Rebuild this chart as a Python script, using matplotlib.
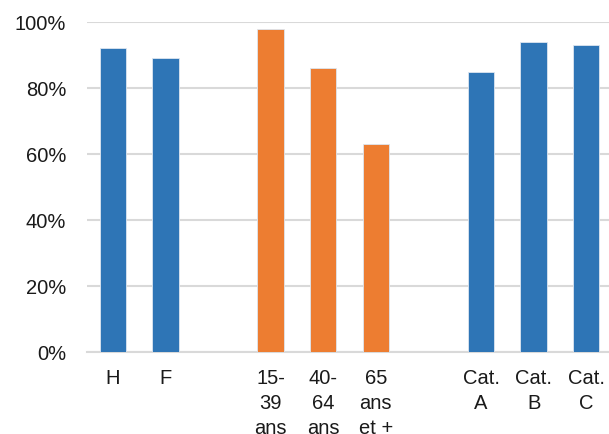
import matplotlib
matplotlib.use("Agg")
import matplotlib.pyplot as plt
from matplotlib.ticker import PercentFormatter

labels = ["H", "F", "15-\n39\nans", "40-\n64\nans", "65\nans\net +",
          "Cat.\nA", "Cat.\nB", "Cat.\nC"]
values = [0.92, 0.89, 0.98, 0.86, 0.63, 0.85, 0.94, 0.93]
groups = [0, 0, 1, 1, 1, 2, 2, 2]
group_colors = ["#2E75B6", "#ED7D31", "#2E75B6"]

plt.rcParams['font.family'] = ['Liberation Sans', 'DejaVu Sans']

fig = plt.figure(figsize=(6.09, 4.34), dpi=100)
ax = fig.add_axes([86.5/609, 1-352/434, 526/609, 330/434])

positions = [i + g for i, g in enumerate(groups)]
colors = [group_colors[g] for g in groups]
ax.bar(positions, values, width=0.5, color=colors, edgecolor="#DDE6F0",
       linewidth=0.6, zorder=3)

ax.set_xlim(-0.5, 9.5)
ax.set_ylim(0, 1.0)
ax.set_yticks([0, 0.2, 0.4, 0.6, 0.8, 1.0])
ax.yaxis.set_major_formatter(PercentFormatter(1.0, decimals=0))
ax.set_xticks(positions)
ax.set_xticklabels(labels, linespacing=1.4, va="top")
ax.grid(axis="y", color="#D9D9D9", linewidth=1.5, zorder=0)
for s in ["top", "right", "left"]:
    ax.spines[s].set_visible(False)
ax.spines["bottom"].set_color("#D9D9D9")
ax.spines["bottom"].set_linewidth(1.5)
ax.tick_params(axis="both", length=0, labelsize=14.5, labelcolor="#1A1A1A")
ax.tick_params(axis="x", pad=12)
ax.tick_params(axis="y", pad=14.5)
for t in ax.get_yticklabels():
    t.set_ha("right")

fig.savefig("out.png", dpi=100)
